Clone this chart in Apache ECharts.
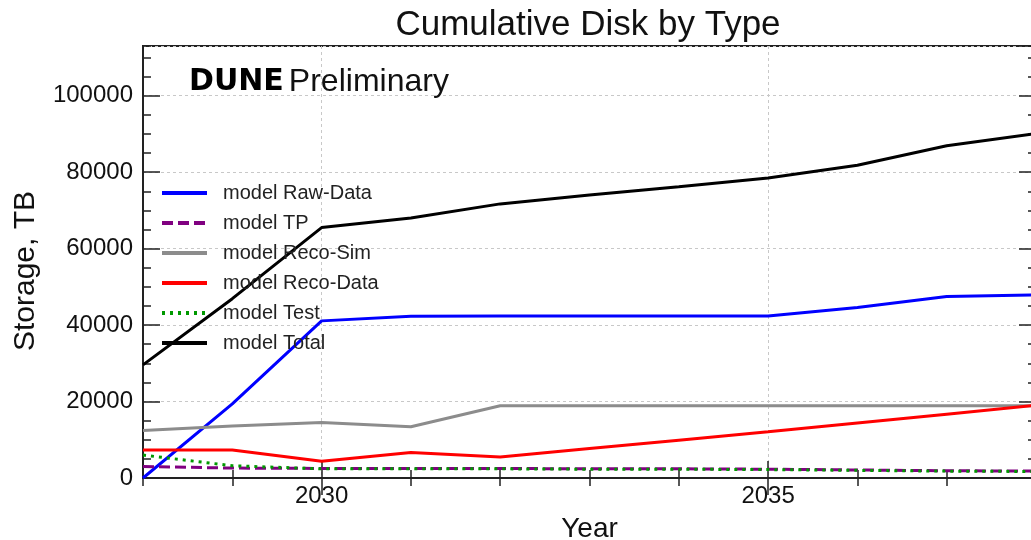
<!DOCTYPE html>
<html>
<head>
<meta charset="utf-8">
<script src="https://cdn.jsdelivr.net/npm/echarts@6/dist/echarts.min.js"></script>
<style>
  html, body { margin: 0; padding: 0; background: #fff; }
  #chart { width: 1031px; height: 540px; }
</style>
</head>
<body>
<div id="chart"></div>
<script>
// Cumulative disk storage per data type, TB
const years     = [2028, 2029, 2030, 2031, 2032, 2033, 2034, 2035, 2036, 2037, 2038];
const rawData   = [0, 19400, 41100, 42300, 42400, 42400, 42400, 42400, 44600, 47500, 47900];
const tp        = [3000, 2600, 2500, 2500, 2500, 2400, 2400, 2300, 2100, 1900, 1800];
const recoSim   = [12400, 13600, 14500, 13400, 18900, 18900, 18900, 18900, 18900, 18900, 18900];
const recoData  = [7300, 7300, 4400, 6700, 5500, 7700, 9900, 12100, 14400, 16700, 19000];
const test      = [6000, 3200, 2400, 2400, 2400, 2300, 2300, 2200, 2000, 1800, 1700];
const total     = [29600, 46900, 65500, 68000, 71700, 74000, 76200, 78500, 81800, 86900, 90100];

const majorYears = [2030, 2035];
const yMax = 113000;

const FONT = '"Liberation Sans", Arial, Helvetica, sans-serif';
const INK = '#111';
const FRAME = '#222';

const pairs = vals => years.map((y, i) => [y, vals[i]]);
const plain = v => String(Math.round(v));

function lineSeries(name, vals, color, type) {
  return {
    name: name,
    type: 'line',
    data: pairs(vals),
    symbol: 'none',
    showSymbol: false,
    animation: false,
    lineStyle: { color: color, width: 3, type: type || 'solid', cap: 'butt' },
    itemStyle: { color: color }
  };
}

// helper axes that only carry inward tick marks
function tickAxis(position, interval, len, max, min) {
  return {
    type: 'value', position: position, min: min, max: max, interval: interval,
    axisLine: { show: false },
    axisTick: { show: true, inside: true, length: len, lineStyle: { color: FRAME, width: 1.5 } },
    axisLabel: { show: false },
    splitLine: { show: false }
  };
}

const chart = echarts.init(document.getElementById('chart'), null, { renderer: 'canvas' });

chart.setOption({
  backgroundColor: '#fff',
  animation: false,
  textStyle: { fontFamily: FONT },
  title: [
    {
      text: 'Cumulative Disk by Type',
      left: 588, top: 8, padding: 0, textAlign: 'center',
      textStyle: { fontFamily: FONT, fontSize: 35, fontWeight: 'normal', color: INK }
    },
    {
      text: '{b|DUNE} {n|Preliminary}',
      left: 189, top: 66, padding: 0,
      textStyle: {
        fontFamily: FONT,
        rich: {
          b: { fontFamily: '"DejaVu Sans", sans-serif', fontSize: 30, fontWeight: 'bold', color: '#000' },
          n: { fontFamily: FONT, fontSize: 32, fontWeight: 'normal', color: INK }
        }
      }
    }
  ],
  graphic: [
    {
      type: 'text', x: 26, y: 271, rotation: Math.PI / 2,
      style: { text: 'Storage, TB', font: '30px ' + FONT, fill: INK, align: 'center', verticalAlign: 'middle' }
    }
  ],
  legend: {
    orient: 'vertical',
    left: 160, top: 183,
    itemWidth: 45, itemHeight: 14, itemGap: 10,
    padding: 0,
    lineStyle: { width: 4 },
    itemStyle: { color: 'transparent', borderWidth: 0, opacity: 0 },
    textStyle: { fontFamily: FONT, fontSize: 20, color: '#222', padding: [0, 0, 0, 11] },
    data: ['model Raw-Data', 'model TP', 'model Reco-Sim', 'model Reco-Data', 'model Test', 'model Total']
  },
  grid: {
    left: 143, right: -5, top: 46, bottom: 62,
    show: true, borderColor: FRAME, borderWidth: 2, backgroundColor: 'transparent',
    containLabel: false,
    outerBoundsMode: 'none'
  },
  xAxis: [
    {
      type: 'value', position: 'bottom', min: 2028, max: 2038, interval: 1,
      name: 'Year', nameLocation: 'middle', nameGap: 37,
      nameTextStyle: { fontFamily: FONT, fontSize: 28, color: INK },
      axisLine: { show: true, lineStyle: { color: FRAME, width: 2 } },
      axisTick: { show: true, inside: true, length: 17, customValues: majorYears, lineStyle: { color: FRAME, width: 1.5 } },
      axisLabel: { show: true, customValues: majorYears, margin: 6, formatter: plain, fontFamily: FONT, fontSize: 24, color: INK },
      splitLine: { show: true, lineStyle: { color: '#c8c8c8', width: 1, type: [3, 3] } }
    },
    tickAxis('bottom', 1, 8, 2038, 2028),
    tickAxis('top', 1, 8, 2038, 2028),
    Object.assign(tickAxis('top', 1, 17, 2038, 2028), {
      axisTick: { show: true, inside: true, length: 17, customValues: majorYears, lineStyle: { color: FRAME, width: 1.5 } }
    })
  ],
  yAxis: [
    {
      type: 'value', position: 'left', min: 0, max: yMax, interval: 20000,
      axisLine: { show: true, lineStyle: { color: FRAME, width: 2 } },
      axisTick: { show: true, inside: true, length: 17, lineStyle: { color: FRAME, width: 1.5 } },
      axisLabel: { show: true, margin: 10, showMaxLabel: false, formatter: plain, fontFamily: FONT, fontSize: 24, color: INK },
      splitLine: { show: true, lineStyle: { color: '#c8c8c8', width: 1, type: [3, 3] } }
    },
    tickAxis('left', 5000, 8, yMax, 0),
    tickAxis('right', 20000, 17, yMax, 0),
    tickAxis('right', 5000, 8, yMax, 0)
  ],
  series: [
    lineSeries('model Raw-Data', rawData, '#0000ff'),
    lineSeries('model TP', tp, '#800080', [11, 5]),
    lineSeries('model Reco-Sim', recoSim, '#8c8c8c'),
    lineSeries('model Reco-Data', recoData, '#ff0000'),
    lineSeries('model Test', test, '#009900', [3, 5]),
    lineSeries('model Total', total, '#000000')
  ]
});
</script>
</body>
</html>
